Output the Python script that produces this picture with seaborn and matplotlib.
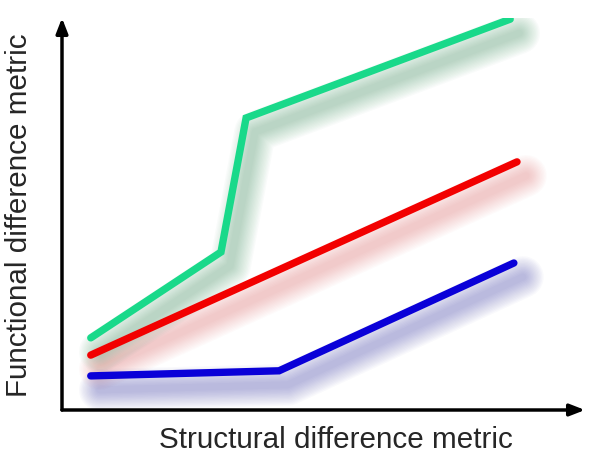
import matplotlib
matplotlib.use("Agg")
import matplotlib.pyplot as plt
import matplotlib.transforms as mtransforms
import seaborn as sns
import pandas as pd
import numpy as np

# Data (arbitrary units)
green_x = [0.55, 3.04, 3.52, 8.57]
green_y = [1.84, 4.03, 7.45, 9.97]
red_x = [0.55, 8.70]
red_y = [1.40, 6.33]
blue_x = [0.55, 4.15, 8.64]
blue_y = [0.87, 1.00, 3.75]

series = ["green", "red", "blue"]
colors = {"green": "#19d98a", "red": "#f20000", "blue": "#0a00d8"}
shadow_colors = {"green": "#3c8f5e", "red": "#e06a6a", "blue": "#3a3aa8"}

df = pd.concat([
    pd.DataFrame({"x": green_x, "y": green_y, "s": "green"}),
    pd.DataFrame({"x": red_x, "y": red_y, "s": "red"}),
    pd.DataFrame({"x": blue_x, "y": blue_y, "s": "blue"}),
], ignore_index=True)

sns.set_style("white")
plt.rcParams['font.family'] = ['Liberation Sans', 'DejaVu Sans']

fig = plt.figure(figsize=(6, 4.65), dpi=100)
ax = fig.add_axes([62/600, 55/465, 523/600, 392/465])
ax.set_xlim(0, 10)
ax.set_ylim(0, 10)

# blurred drop shadows
tr = mtransforms.offset_copy(ax.transData, fig=fig, x=9/100*72, y=-14/100*72, units='points')
for s in series:
    sub = df[df.s == s]
    for lw in np.linspace(30, 5, 14):
        ax.plot(sub.x, sub.y, color=shadow_colors[s], lw=lw, alpha=0.028,
                solid_capstyle='round', solid_joinstyle='round', transform=tr, zorder=1)

sns.lineplot(data=df, x="x", y="y", hue="s", palette=colors, sort=False,
             estimator=None, lw=5.3, legend=False, ax=ax, zorder=3)
for l in ax.get_lines()[-3:]:
    l.set_solid_capstyle('round')
    l.set_solid_joinstyle('miter')

for sp in ax.spines.values():
    sp.set_visible(False)
ax.set_xticks([])
ax.set_yticks([])
ax.set_xlabel("")
ax.set_ylabel("")

# axis arrows
ax.annotate("", xy=(1.0, 0), xytext=(0, 0), xycoords='axes fraction',
            arrowprops=dict(arrowstyle="-|>,head_length=0.9,head_width=0.35", lw=2.5, color="black",
                            shrinkA=0, shrinkB=0), annotation_clip=False)
ax.annotate("", xy=(0, 1.0), xytext=(0, 0), xycoords='axes fraction',
            arrowprops=dict(arrowstyle="-|>,head_length=0.9,head_width=0.35", lw=2.5, color="black",
                            shrinkA=0, shrinkB=0), annotation_clip=False)

fig.text(336/600, 1 - 440/465, "Structural difference metric", ha='center', va='center', fontsize=21.3)
fig.text(19/600, 1 - 215/465, "Functional difference metric", ha='center', va='center',
         fontsize=21.3, rotation=90)

fig.savefig("out.png", dpi=100)
